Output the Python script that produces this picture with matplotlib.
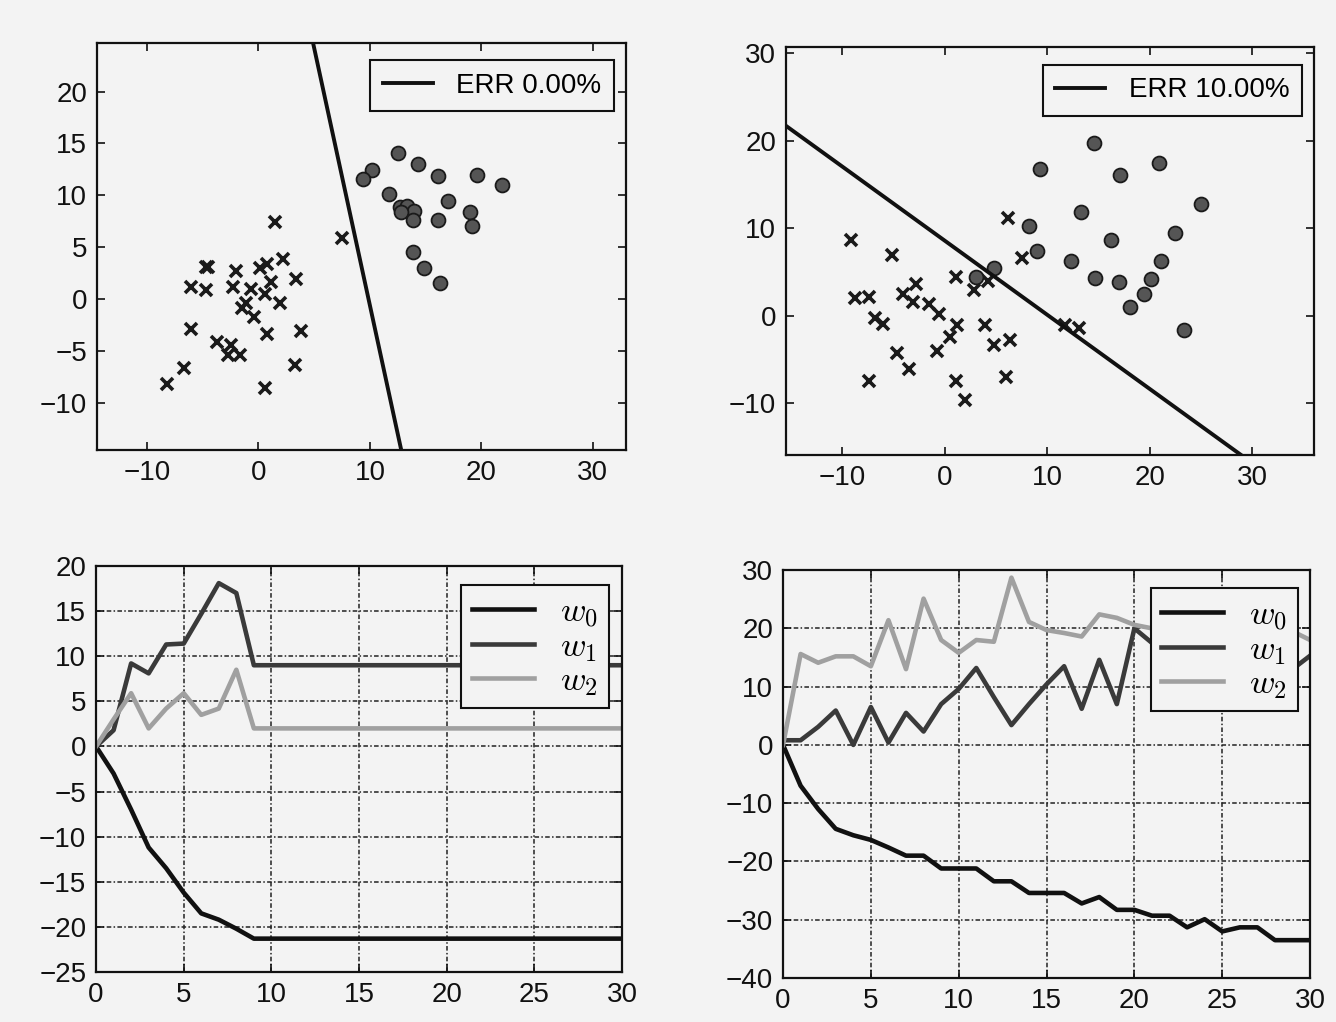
import numpy as np
import matplotlib
matplotlib.use("Agg")
import matplotlib.pyplot as plt

# --- data ---
# left top: separable case
tl_x_cross = [1.5, 7.5, -4.7, -4.5, -2.0, 0.1, 0.8, 2.2, -6.1, -4.7, -2.3, -0.7, 1.1, 3.4, 0.55,
              -1.1, -1.5, -0.4, 1.9, -6.1, 0.8, 3.8, -3.7, -2.5, -2.7, -1.7, -6.7, 3.3, -8.2, 0.55]
tl_y_cross = [7.4, 5.9, 3.1, 3.1, 2.7, 3.0, 3.4, 3.9, 1.2, 0.9, 1.2, 1.0, 1.6, 1.9, 0.5,
              -0.4, -0.9, -1.75, -0.4, -2.9, -3.4, -3.1, -4.1, -4.4, -5.4, -5.4, -6.7, -6.4, -8.2, -8.6]
tl_x_circ = [12.5, 14.3, 16.1, 19.6, 21.9, 10.2, 9.4, 11.7, 17.0, 12.7,
             13.3, 14.0, 12.8, 13.9, 16.1, 19.0, 19.2, 13.9, 14.9, 16.3]
tl_y_circ = [14.1, 13.0, 11.9, 12.0, 11.0, 12.4, 11.6, 10.1, 9.5, 8.9,
             9.0, 8.5, 8.4, 7.6, 7.6, 8.4, 7.0, 4.5, 3.0, 1.5]
tl_line = [49.0, -4.96]   # intercept, slope of decision line
tl_label = "ERR 0.00%"

# right top: non separable case
tr_x_cross = [-9.2, -5.2, 6.2, 7.5, 1.1, 4.2, 2.8, -2.8, -4.1, -3.1, -8.8, -7.4, -1.5, -0.6, -6.8,
              -6.0, 1.2, 0.5, 3.9, 4.8, 6.4, -4.7, -0.8, -3.5, -7.4, 1.1, 6.0, 2.0, 11.7, 13.1]
tr_y_cross = [8.6, 7.0, 11.2, 6.6, 4.4, 4.0, 2.9, 3.6, 2.5, 1.6, 2.0, 2.2, 1.3, 0.2, -0.2,
              -0.9, -1.1, -2.4, -1.0, -3.3, -2.8, -4.2, -4.0, -6.1, -7.4, -7.4, -7.0, -9.6, -1.0, -1.4]
tr_x_circ = [14.5, 20.9, 9.3, 17.1, 25.0, 13.3, 8.2, 22.4, 16.2, 9.0,
             12.3, 21.1, 4.8, 3.0, 14.6, 17.0, 20.1, 19.4, 18.1, 23.3]
tr_y_circ = [19.7, 17.4, 16.8, 16.1, 12.8, 11.9, 10.3, 9.5, 8.6, 7.4,
             6.3, 6.3, 5.5, 4.4, 4.3, 3.9, 4.2, 2.5, 1.0, -1.6]
tr_line = [8.57, -0.847]
tr_label = "ERR 10.00%"

# bottom: weights per iteration
iters = list(range(31))
bl_w0 = [0, -3.0, -7.0, -11.2, -13.5, -16.2, -18.5, -19.2, -20.2, -21.3] + [-21.3] * 21
bl_w1 = [0, 1.8, 9.2, 8.1, 11.3, 11.4, 14.7, 18.1, 17.0, 9.0] + [9.0] * 21
bl_w2 = [0, 3.0, 5.9, 2.0, 4.2, 5.9, 3.5, 4.2, 8.5, 2.0] + [2.0] * 21

br_w0 = [0, -7.0, -11.0, -14.4, -15.5, -16.3, -17.6, -19.0, -19.0, -21.2, -21.2,
         -21.2, -23.4, -23.4, -25.4, -25.4, -25.4, -27.2, -26.1, -28.3, -28.3,
         -29.3, -29.3, -31.3, -29.9, -32.0, -31.3, -31.3, -33.5, -33.5, -33.5]
br_w1 = [0.8, 0.8, 3.1, 5.9, 0.0, 6.5, 0.4, 5.5, 2.3, 7.0, 9.6,
         13.2, 8.2, 3.4, 7.0, 10.4, 13.5, 6.2, 14.6, 7.0, 20.0,
         17.5, 13.0, 16.0, 12.0, 15.5, 17.0, 14.0, 12.0, 13.0, 15.3]
br_w2 = [0, 15.6, 14.1, 15.2, 15.2, 13.5, 21.4, 13.0, 25.1, 18.0, 15.8,
         18.0, 17.7, 28.7, 21.1, 19.7, 19.2, 18.6, 22.4, 21.8, 20.6,
         20.0, 19.5, 20.5, 19.0, 20.0, 21.0, 20.0, 19.5, 19.5, 18.0]
w_labels = [r"$w_0$", r"$w_1$", r"$w_2$"]
w_colors = ["#111111", "#3a3a3a", "#a0a0a0"]

bg = "#f3f3f3"
plt.rcParams["font.family"] = ["Liberation Sans", "DejaVu Sans"]
plt.rcParams["mathtext.fontset"] = "cm"

fig = plt.figure(figsize=(13.36, 10.22), dpi=100, facecolor=bg)

def frame(ax):
    ax.set_facecolor(bg)
    for s in ax.spines.values():
        s.set_linewidth(1.6)
        s.set_color("#111111")
    ax.tick_params(direction="in", top=True, right=True, length=6, width=1.2,
                   labelsize=20, pad=7, colors="#111111")

def scatter_panel(rect, xc, yc, xo, yo, line, label, xlim, ylim, xt, yt, anchor):
    ax = fig.add_axes(rect)
    frame(ax)
    ax.plot(xc, yc, "x", ms=9, mew=2.6, color="#1a1a1a", ls="none")
    ax.plot(xo, yo, "o", ms=10, mfc="#555555", mec="#1a1a1a", mew=1.3, ls="none")
    xx = np.array(xlim)
    ax.plot(xx, line[0] + line[1] * xx, color="#111111", lw=2.8, label=label)
    ax.set_xlim(xlim)
    ax.set_ylim(ylim)
    ax.set_xticks(xt)
    ax.set_yticks(yt)
    leg = ax.legend(loc="upper right", bbox_to_anchor=anchor, borderaxespad=0,
                    fontsize=20, fancybox=False, framealpha=1, facecolor=bg,
                    edgecolor="#111111", handlelength=1.8, handletextpad=0.85,
                    borderpad=0.45)
    leg.get_frame().set_linewidth(1.5)
    return ax

def weight_panel(rect, ws, ylim, yt, anchor):
    ax = fig.add_axes(rect)
    frame(ax)
    for w, lab, c in zip(ws, w_labels, w_colors):
        ax.plot(iters, w, color=c, lw=3.3, label=lab, solid_joinstyle="round")
    ax.set_xlim(0, 30)
    ax.set_ylim(ylim)
    ax.set_xticks(range(0, 31, 5))
    ax.set_yticks(yt)
    ax.grid(True, color="#222222", lw=1.1, ls=(0, (3, 1.5, 1, 1.5)))
    leg = ax.legend(loc="upper right", bbox_to_anchor=anchor, borderaxespad=0,
                    fontsize=25, fancybox=False, framealpha=1, facecolor=bg,
                    edgecolor="#111111", handlelength=1.8, handletextpad=0.75,
                    borderpad=0.3, labelspacing=0.0)
    leg.get_frame().set_linewidth(1.5)
    return ax

scatter_panel([0.0726, 0.5597, 0.396, 0.3983], tl_x_cross, tl_y_cross, tl_x_circ, tl_y_circ,
              tl_line, tl_label, (-14.5, 33.0), (-14.56, 24.7),
              range(-10, 31, 10), range(-10, 21, 5), (0.977, 0.958))
scatter_panel([0.5883, 0.5548, 0.3952, 0.3992], tr_x_cross, tr_y_cross, tr_x_circ, tr_y_circ,
              tr_line, tr_label, (-15.5, 36.0), (-15.9, 30.7),
              range(-10, 31, 10), range(-10, 31, 10), (0.977, 0.956))
weight_panel([0.0719, 0.0489, 0.3937, 0.3973], [bl_w0, bl_w1, bl_w2],
             (-25, 20), range(-25, 21, 5), (0.975, 0.953))
weight_panel([0.5861, 0.0430, 0.3945, 0.3992], [br_w0, br_w1, br_w2],
             (-40, 30), range(-40, 31, 10), (0.977, 0.956))

fig.savefig("out.png", dpi=100, facecolor=bg)
